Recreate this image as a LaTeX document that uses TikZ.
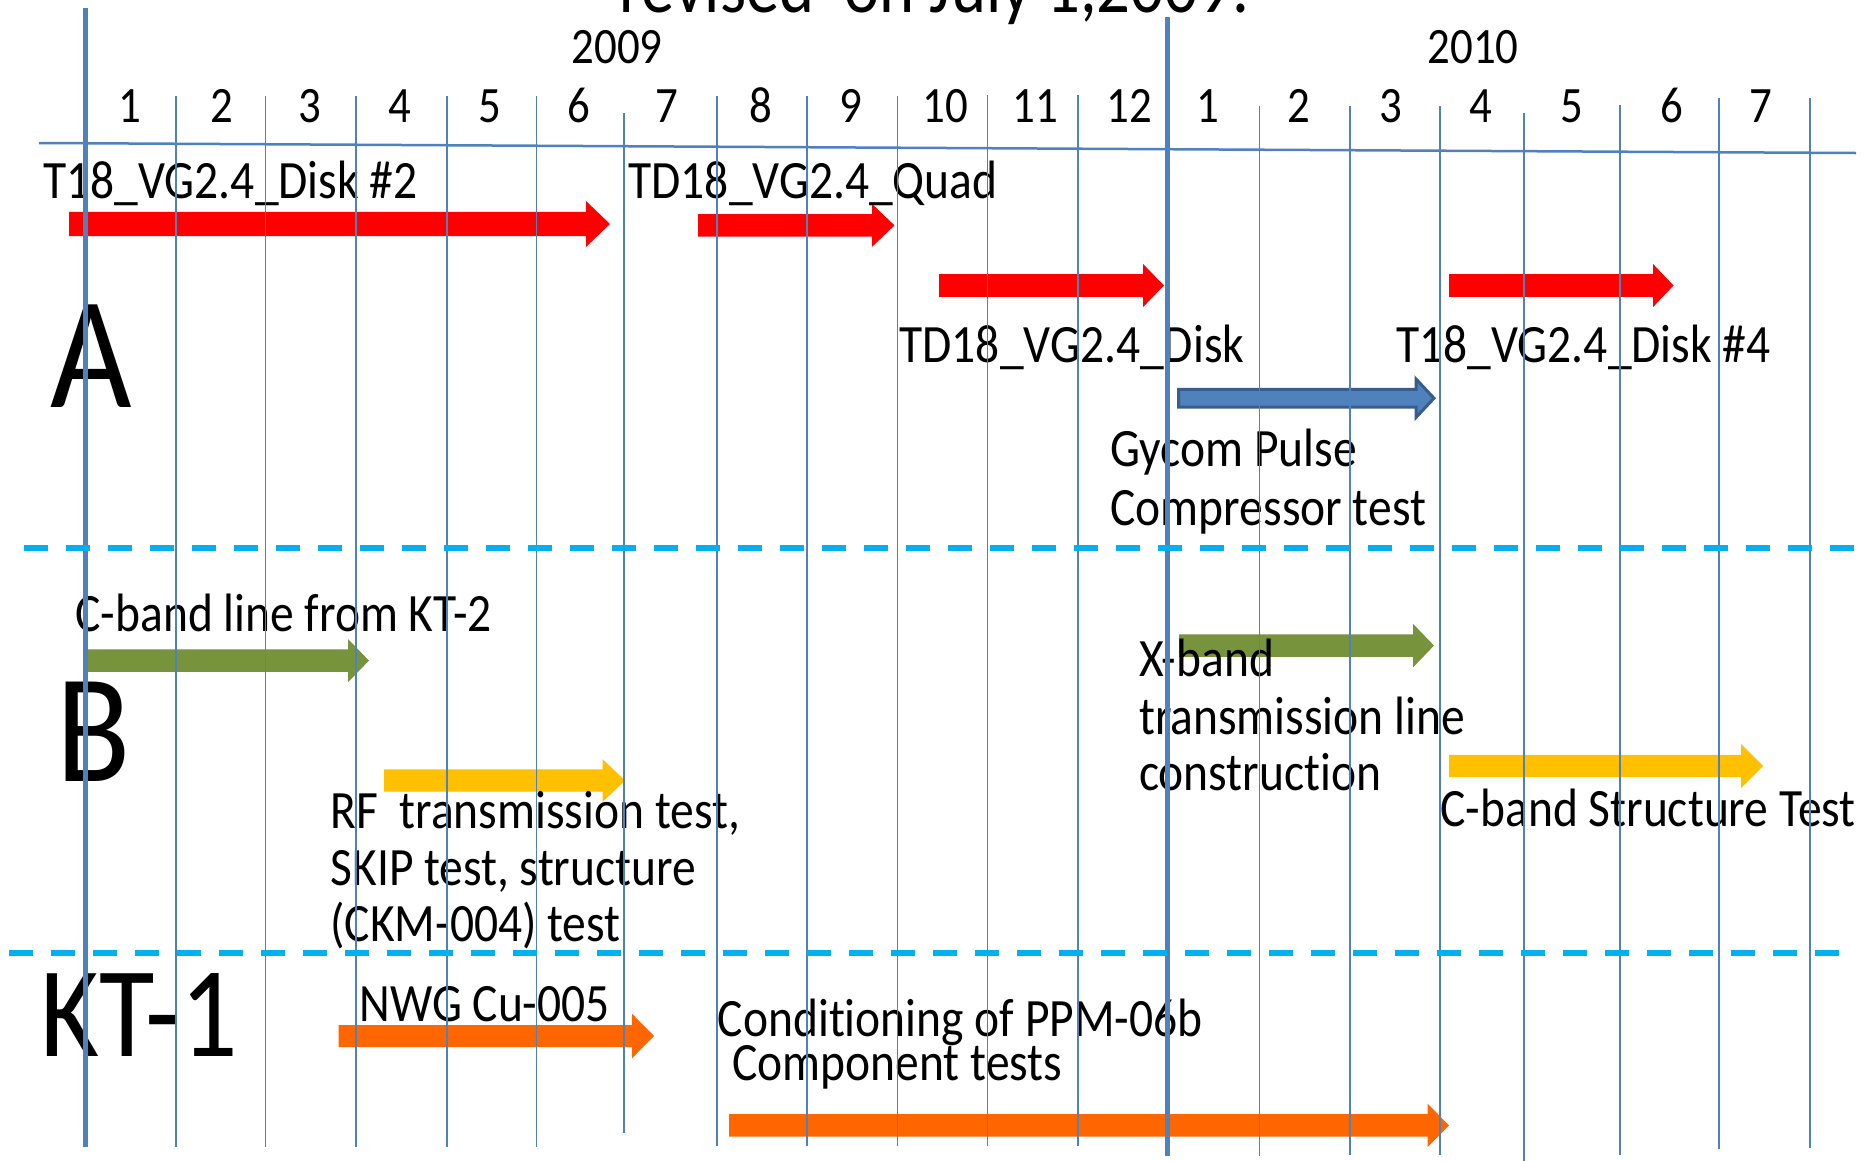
\documentclass[tikz,border=0pt]{standalone}
\usepackage{fontspec}
\setmainfont{Carlito}[FakeStretch=0.88, Ligatures=NoCommon]

\definecolor{gridblue}{HTML}{4F81BD}
\definecolor{divcyan}{HTML}{00B0F0}
\definecolor{barred}{HTML}{FF0000}
\definecolor{barblue}{HTML}{4F81BD}
\definecolor{barblueedge}{HTML}{385D8A}
\definecolor{bargreen}{HTML}{77933C}
\definecolor{baryellow}{HTML}{FFC000}
\definecolor{barorange}{HTML}{FF6600}

% block arrow: style, shaft start x, head base x, tip x, centre y, shaft half height, head half height
\newcommand\taskbar[7]{%
  \path[#1] (#2,#5-#6) -- (#3,#5-#6) -- (#3,#5-#7) -- (#4,#5)
    -- (#3,#5+#7) -- (#3,#5+#6) -- (#2,#5+#6) -- cycle;}

\begin{document}
\begin{tikzpicture}[x=0.4pt,y=-0.4pt,
  monthline/.style={draw=gridblue, line width=0.7pt},
  yearline/.style={draw=gridblue, line width=2pt},
  axisline/.style={draw=gridblue, line width=1pt},
  divider/.style={draw=divcyan, line width=2.6pt, dash pattern=on 9.6pt off 7.2pt},
  lbl/.style={inner sep=0pt, anchor=base west, font=\fontsize{21.6}{26}\selectfont},
  month/.style={inner sep=0pt, anchor=base, font=\fontsize{20.4}{24}\selectfont},
  group/.style={inner sep=0pt, anchor=base},
  redbar/.style={fill=barred},
  bluebar/.style={fill=barblue, draw=barblueedge, line width=1.2pt, line join=miter},
  greenbar/.style={fill=bargreen},
  yellowbar/.style={fill=baryellow},
  orangebar/.style={fill=barorange}]

\useasboundingbox (0,0) rectangle (1875,1161);
\clip (0,0) rectangle (1875,1161);
\fill[white] (0,0) rectangle (1875,1161);

% ---- task bars ----
\taskbar{redbar}{69}{586}{610}{224}{12.2}{23}
\taskbar{redbar}{698}{872}{894.5}{225.4}{11.3}{21.5}
\taskbar{redbar}{939}{1143}{1164}{285.5}{11.3}{21.6}
\taskbar{redbar}{1449}{1653}{1673.5}{285.5}{11.3}{21.6}
\taskbar{bluebar}{1178.5}{1416}{1434}{398.2}{8.8}{19.2}
\taskbar{greenbar}{84}{348}{369}{660.6}{11.2}{21.6}
\taskbar{greenbar}{1179}{1413}{1434}{645.6}{11.3}{21.8}
\taskbar{yellowbar}{384}{602.5}{625}{780.5}{11.2}{21.4}
\taskbar{yellowbar}{1449}{1741}{1763}{766}{11.2}{22.2}
\taskbar{orangebar}{338.5}{632}{654}{1036}{11}{22.3}
\taskbar{orangebar}{729}{1427.5}{1449}{1125.4}{11.3}{21.8}

% ---- title and year headings ----
\node[inner sep=0pt, anchor=base west, font=\fontsize{30.3}{36}\selectfont]
  (title) at (619,12) {revised\ \ on July 1,2009.};
\node[month] (y2009) at (617,63) {2009};
\node[month] (y2010) at (1473,63) {2010};

% ---- month numbers ----
\foreach \m/\cx [count=\i] in {1/129.5,2/221.8,3/310,4/400,5/490,6/579,7/667,8/761,
    9/851,10/945,11/1035,12/1129.6}
  \node[month] (m09-\i) at (\cx,122.7) {\m};
\foreach \m/\cx [count=\i] in {1/1208,2/1299,3/1391,4/1481,5/1571.5,6/1671.7,7/1761}
  \node[month] (m10-\i) at (\cx,122.7) {\m};

% ---- group letters ----
\node[group, font=\fontsize{64}{70}\selectfont] (gA) at (91.7,407.7) {A};
\node[group, font=\fontsize{62}{68}\selectfont] (gB) at (93.5,781.7) {B};
\node[group, font=\fontsize{51.6}{58}\selectfont] (gKT) at (139,1056.7) {KT-1};

% ---- task labels ----
\node[lbl] (t1) at (43,198) {T18\_VG2.4\_Disk \#2};
\node[lbl] (t2) at (628,198) {TD18\_VG2.4\_Quad};
\node[lbl] (t3) at (899,362) {TD18\_VG2.4\_Disk};
\node[lbl] (t4) at (1396,362) {T18\_VG2.4\_Disk \#4};
\node[lbl] (t5a) at (1110,466.7) {Gycom Pulse};
\node[lbl] (t5b) at (1110,525) {Compressor test};
\node[lbl] (t6) at (75,631.7) {C-band line from KT-2};
\node[lbl] (t7a) at (330,828) {RF\ \ transmission test,};
\node[lbl] (t7b) at (330,885) {SKIP test, structure};
\node[lbl] (t7c) at (330,941.7) {(CKM-004) test};
\node[lbl] (t8a) at (1138.6,676.7) {X-band};
\node[lbl] (t8b) at (1138.6,734) {transmission line};
\node[lbl] (t8c) at (1138.6,790.7) {construction};
\node[lbl] (t9) at (1440,826.7) {C-band Structure Test};
\node[lbl] (t10) at (359,1021.7) {NWG Cu-005};
\node[lbl] (t11a) at (717.4,1036.7) {Conditioning of PPM-06b};
\node[lbl] (t11b) at (732,1080) {Component tests};

% ---- month grid ----
\foreach \gx/\gt/\gb in {176/96/1147,265.5/96/1147,356/96/1147,447/96/1147,536.5/96/1147,
    624/113/1133,717/96/1146,807/96/1146,897.5/96/1146,987.5/95/1146,1078/95/1146,
    1259.5/106/1156,1350/106/1155,1440/106/1155,1524/113/1161,1620/105/1155,
    1719/98/1149,1810/98/1148}
  \draw[monthline] (\gx,\gt) -- (\gx,\gb);
\draw[yearline] (85,8) -- (85,1147);
\draw[yearline] (1167.5,17) -- (1167.5,1156);
\draw[axisline] (39,143) -- (1856,153);

% ---- group dividers ----
\draw[divider] (24,548) -- (1856,548);
\draw[divider] (9,953) -- (1841,953);

\end{tikzpicture}
\end{document}
